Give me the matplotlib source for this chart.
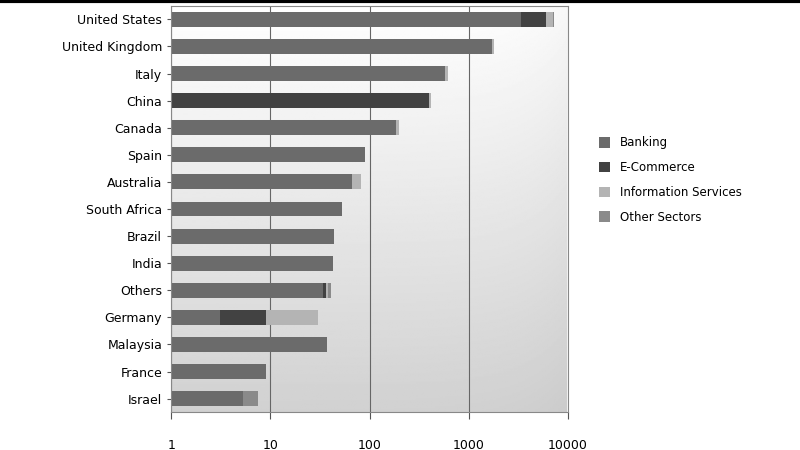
import numpy as np
import matplotlib.pyplot as plt

countries = ['United States', 'United Kingdom', 'Italy', 'China', 'Canada', 'Spain',
             'Australia', 'South Africa', 'Brazil', 'India', 'Others', 'Germany',
             'Malaysia', 'France', 'Israel']
banking = [3350, 1700, 575, 0, 183, 89, 67, 53, 44, 43, 34, 3.1, 37, 9.1, 5.3]
ecommerce = [2650, 0, 0, 395, 0, 0, 0, 0, 0, 0, 2.5, 6.0, 0, 0, 0]
info_services = [1100, 100, 35, 25, 17, 0, 14, 0, 0, 0, 1.5, 21, 0, 0, 0]
other_sectors = [100, 0, 0, 0, 0, 0, 0, 0, 0, 0, 3, 0, 0, 0, 2.2]

series = [('Banking', banking, '#6b6b6b'),
          ('E-Commerce', ecommerce, '#424242'),
          ('Information Services', info_services, '#b4b4b4'),
          ('Other Sectors', other_sectors, '#8a8a8a')]

fig = plt.figure(figsize=(8, 4.5), dpi=100)
fig.add_artist(plt.Line2D([0, 1], [0.997, 0.997], color='black', lw=3))
ax = fig.add_axes([0.214, 0.084, 0.496, 0.903])

# soft grey gradient background
grad = np.linspace(1.0, 0.82, 256).reshape(-1, 1)
ax.imshow(grad[::-1] * np.linspace(1, 0.97, 256), cmap='gray', vmin=0, vmax=1,
          extent=[1, 10000, -0.5, len(countries) - 0.5], aspect='auto', zorder=0)

y = np.arange(len(countries))
left = np.ones(len(countries)) * 1.0
cum = np.zeros(len(countries))
for name, vals, col in series:
    vals = np.array(vals, dtype=float)
    start = np.where(cum > 0, cum, 1.0)
    end = cum + vals
    width = np.where(vals > 0, end - start, 0)
    ax.barh(y, width, left=start, height=0.55, color=col, label=name, zorder=2)
    cum = np.where(vals > 0, end, cum)

ax.set_xscale('log')
ax.set_xlim(1, 10000)
ax.set_ylim(len(countries) - 0.5, -0.5)
ax.set_yticks(y)
ax.set_yticklabels(countries, fontsize=9)
ax.set_xticks([1, 10, 100, 1000, 10000])
ax.set_xticklabels(['1', '10', '100', '1000', '10000'], fontsize=9)
ax.minorticks_off()
ax.tick_params(axis='x', length=5, pad=14, color='#555555')
ax.tick_params(axis='y', length=3, color='#555555')
ax.grid(axis='x', color='#666666', lw=0.8, zorder=1)
for s in ax.spines.values():
    s.set_color('#888888')

fig.legend(loc='center left', bbox_to_anchor=(0.735, 0.6), frameon=False,
           fontsize=8.5, handlelength=1.0, handleheight=1.0, labelspacing=1.0)
fig.savefig('out.png', dpi=100)
